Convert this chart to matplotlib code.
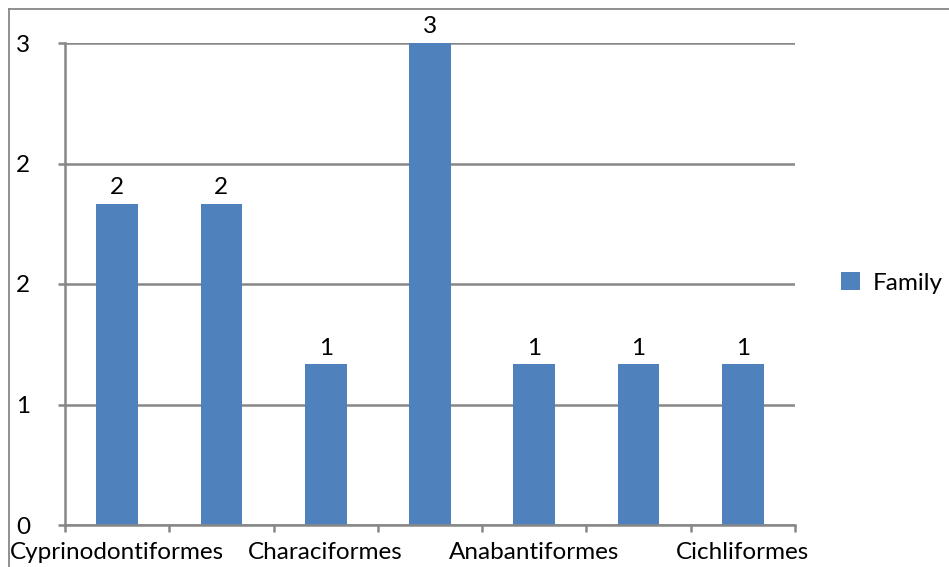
import matplotlib
matplotlib.use("Agg")
import matplotlib.pyplot as plt
from matplotlib.lines import Line2D
from matplotlib.ticker import FixedLocator, FuncFormatter
import math

plt.rcParams['font.family'] = ['Lato', 'DejaVu Sans']

# Orders with their family counts
tick_labels = ["Cyprinodontiformes", "", "Characiformes", "", "Anabantiformes", "", "Cichliformes"]
family_counts = [2, 2, 1, 3, 1, 1, 1]
y_ticks = [0, 0.75, 1.5, 2.25, 3]
series_name = "Family"

bar_color = "#4F81BD"
grid_color = "#878787"
font_size = 17.5

W, H = 949, 567
fig = plt.figure(figsize=(W / 100, H / 100), dpi=100)
ax = fig.add_axes([65 / W, 1 - 525 / H, (795 - 65) / W, (525 - 43) / H])

x = list(range(len(family_counts)))
bars = ax.bar(x, family_counts, width=0.4, color=bar_color, zorder=3, label=series_name)

for xi, v in zip(x, family_counts):
    ax.annotate(f"{v}", (xi, v), xytext=(0, 4), textcoords="offset points",
                ha="center", va="bottom", fontsize=font_size, color="black")

ax.set_xlim(-0.5, len(family_counts) - 0.5)
ax.set_ylim(0, 3)

ax.yaxis.set_major_locator(FixedLocator(y_ticks))
ax.yaxis.set_major_formatter(FuncFormatter(lambda v, p: f"{int(math.floor(v + 0.5))}"))
ax.grid(axis="y", color=grid_color, linewidth=1.8, zorder=0)

ax.set_xticks([i - 0.5 for i in range(len(family_counts) + 1)])
ax.set_xticklabels([])
ax.set_xticks(x, minor=True)
ax.set_xticklabels(tick_labels, minor=True, fontsize=font_size)
ax.tick_params(axis="x", which="minor", length=0, pad=12)
ax.tick_params(axis="x", which="major", length=5, width=1.8, color=grid_color)
ax.tick_params(axis="y", length=5, width=1.8, color=grid_color, pad=20, labelsize=font_size)

for side in ("top", "right"):
    ax.spines[side].set_visible(False)
for side in ("left", "bottom"):
    ax.spines[side].set_color(grid_color)
    ax.spines[side].set_linewidth(1.8)
    ax.spines[side].set_zorder(4)

# Chart frame (top and left edges)
fig.add_artist(Line2D([9 / W, 1], [1 - 9 / H, 1 - 9 / H], transform=fig.transFigure,
                      color=grid_color, linewidth=1.3))
fig.add_artist(Line2D([9 / W, 9 / W], [0, 1 - 9 / H], transform=fig.transFigure,
                      color=grid_color, linewidth=1.3))

fig.legend(handles=[bars], labels=[series_name], loc="center left",
           bbox_to_anchor=(819 / W, 1 - 283 / H), frameon=False,
           fontsize=font_size, handlelength=0.78, handleheight=0.78, handletextpad=0.55)

fig.savefig("out.png", dpi=100)
